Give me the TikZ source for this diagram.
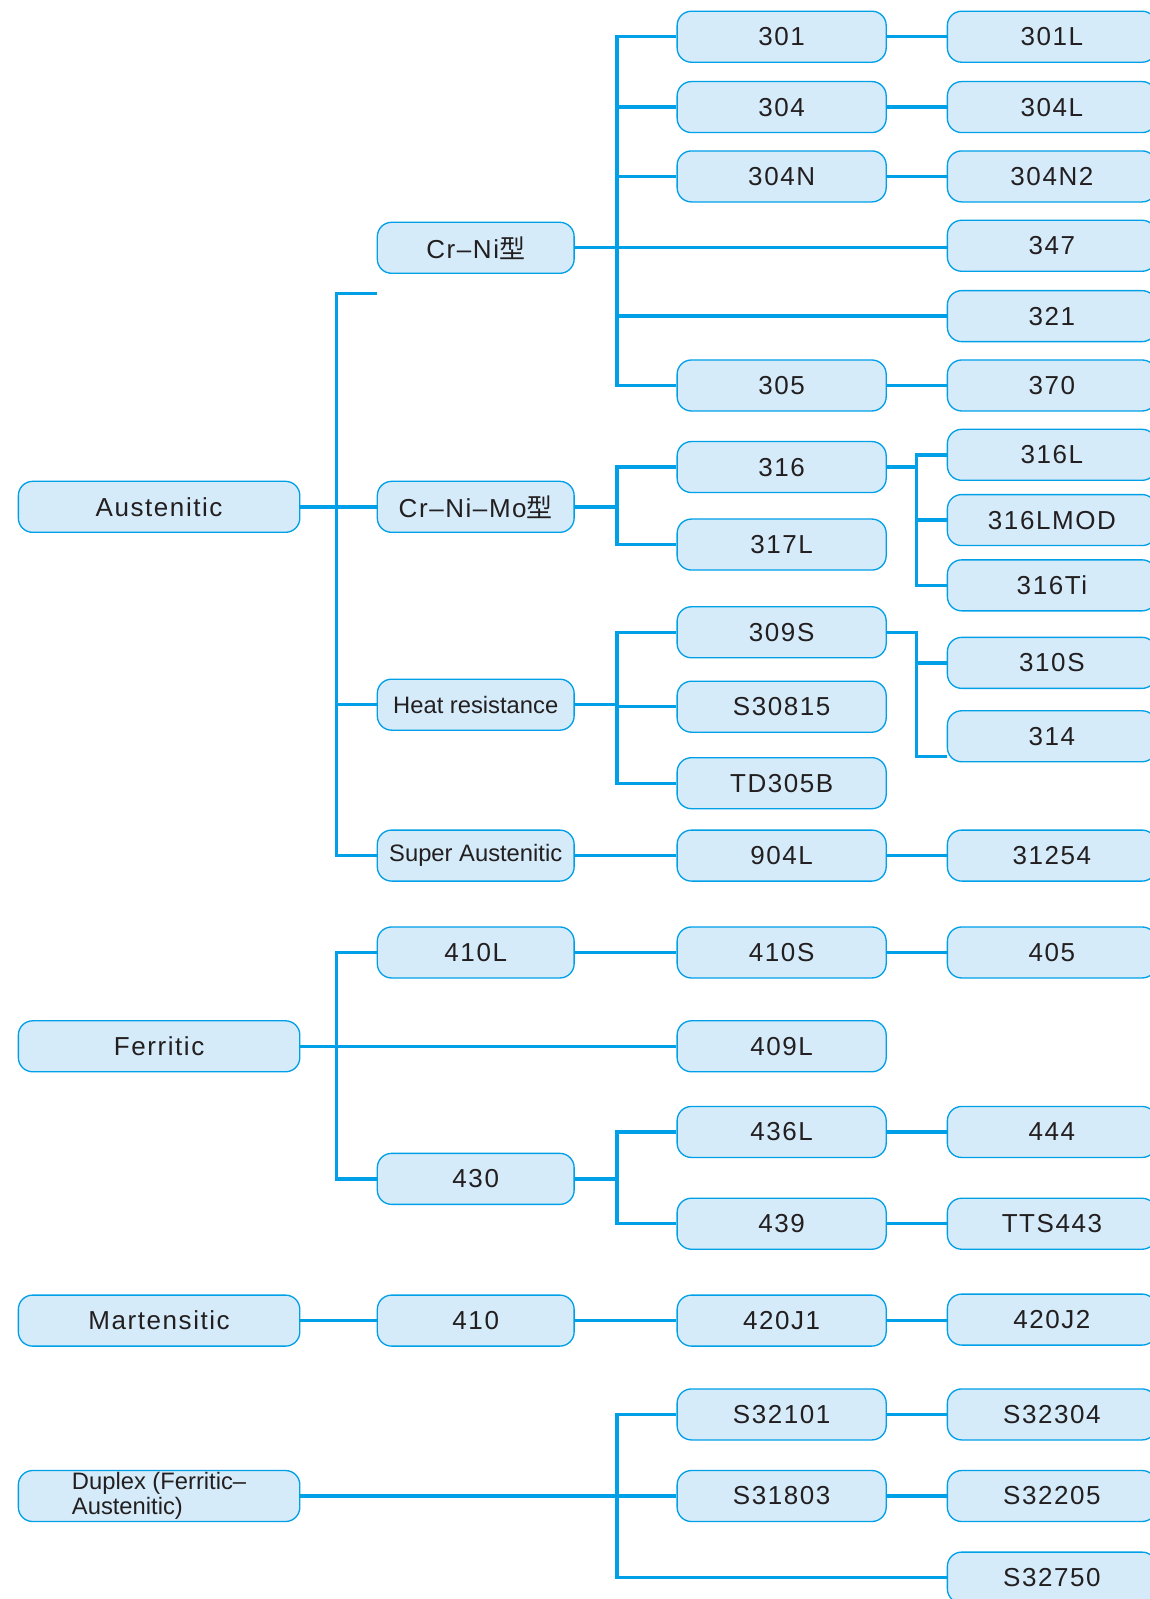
\documentclass[tikz,border=0pt]{standalone}
\usepackage{fontspec}
\setmainfont{Liberation Sans}
\newfontfamily\trk[LetterSpace=6]{Liberation Sans}
\newfontfamily\cjk{Noto Sans CJK SC}
\definecolor{lineblue}{HTML}{00A0E9}
\definecolor{boxfill}{HTML}{D5EBF9}
\definecolor{txt}{HTML}{231F20}
\newcommand\mylab{\trk\fontsize{25.5bp}{30bp}\selectfont}
\newcommand\mysmall{\fontsize{23.3bp}{24bp}\selectfont}
\tikzset{
  box/.style={draw=lineblue, line width=1.3bp, fill=boxfill, rounded corners=14bp,
    minimum height=50bp, inner sep=0pt, text=txt, font=\mylab},
  colA/.style={box, minimum width=276bp},
  colB/.style={box, minimum width=193bp},
  colC/.style={box, minimum width=205bp},
  colD/.style={box, minimum width=205bp},
  small/.style={font=\mysmall},
  link/.style={draw=lineblue, line width=3.3bp},
}
\begin{document}
\begin{tikzpicture}[x=1bp, y=-1bp]
\useasboundingbox (0,0) rectangle (1127,1568);
\fill[white] (0,0) rectangle (1127,1568);

% trunk coordinates
\coordinate (tA) at (330,288);
\coordinate (tB) at (605,0);
\coordinate (tC) at (899,0);

% column A
\node[colA] (aus) at (156,497) {Austenitic};
\node[colA] (fer) at (156,1026) {Ferritic};
\node[colA] (mar) at (156,1295) {Martensitic};
\node[colA, small, align=left] (dup) at (156,1467) {Duplex (Ferritic–\\Austenitic)};

% column B
\node[colB] (crni) at (466.5,243) {Cr–Ni{\cjk 型}};
\node[colB] (crnimo) at (466.5,497) {Cr–Ni–Mo{\cjk 型}};
\node[colB, small] (hr) at (466.5,691) {Heat resistance};
\node[colB, small] (sa) at (466.5,839) {Super Austenitic};
\node[colB] (b410L) at (466.5,934) {410L};
\node[colB] (b430) at (466.5,1156) {430};
\node[colB] (b410) at (466.5,1295) {410};

% column C
\node[colC] (c301) at (766.5,36) {301};
\node[colC] (c304) at (766.5,105) {304};
\node[colC] (c304N) at (766.5,173) {304N};
\node[colC] (c305) at (766.5,378) {305};
\node[colC] (c316) at (766.5,458) {316};
\node[colC] (c317L) at (766.5,534) {317L};
\node[colC] (c309S) at (766.5,620) {309S};
\node[colC] (cS30815) at (766.5,693) {S30815};
\node[colC] (cTD305B) at (766.5,768) {TD305B};
\node[colC] (c904L) at (766.5,839) {904L};
\node[colC] (c410S) at (766.5,934) {410S};
\node[colC] (c409L) at (766.5,1026) {409L};
\node[colC] (c436L) at (766.5,1110) {436L};
\node[colC] (c439) at (766.5,1200) {439};
\node[colC] (c420J1) at (766.5,1295) {420J1};
\node[colC] (cS32101) at (766.5,1387) {S32101};
\node[colC] (cS31803) at (766.5,1467) {S31803};

% column D
\node[colD] (d301L) at (1031.5,36) {301L};
\node[colD] (d304L) at (1031.5,105) {304L};
\node[colD] (d304N2) at (1031.5,173) {304N2};
\node[colD] (d347) at (1031.5,241) {347};
\node[colD] (d321) at (1031.5,310) {321};
\node[colD] (d370) at (1031.5,378) {370};
\node[colD] (d316L) at (1031.5,446) {316L};
\node[colD] (d316LMOD) at (1031.5,510) {316LMOD};
\node[colD] (d316Ti) at (1031.5,574) {316Ti};
\node[colD] (d310S) at (1031.5,650) {310S};
\node[colD] (d314) at (1031.5,722) {314};
\node[colD] (d31254) at (1031.5,839) {31254};
\node[colD] (d405) at (1031.5,934) {405};
\node[colD] (d444) at (1031.5,1110) {444};
\node[colD] (dTTS443) at (1031.5,1200) {TTS443};
\node[colD] (d420J2) at (1031.5,1294) {420J2};
\node[colD] (dS32304) at (1031.5,1387) {S32304};
\node[colD] (dS32205) at (1031.5,1467) {S32205};
\node[colD] (dS32750) at (1031.5,1547) {S32750};

\begin{scope}[every path/.style={link}]
% Austenitic
\draw (crni.west |- tA) -- (tA) -- (tA |- sa.west) -- (sa.west);
\draw (aus.east) -- (crnimo.west);
\draw (tA |- hr.west) -- (hr.west);
% Cr-Ni
\draw (crni.east) -- (crni.east -| d347.west);
\draw (c301.west) -- (c301.west -| tB) -- (c305.west -| tB) -- (c305.west);
\draw (c304.west -| tB) -- (c304.west);
\draw (c304N.west -| tB) -- (c304N.west);
\draw (d321.west -| tB) -- (d321.west);
\draw (c301.east) -- (d301L.west);
\draw (c304.east) -- (d304L.west);
\draw (c304N.east) -- (d304N2.west);
\draw (c305.east) -- (d370.west);
% Cr-Ni-Mo
\draw (crnimo.east) -- (crnimo.east -| tB);
\draw (c316.west) -- (c316.west -| tB) -- (c317L.west -| tB) -- (c317L.west);
\draw (c316.east) -- (c316.east -| tC);
\draw (d316L.west) -- (d316L.west -| tC) -- (d316Ti.west -| tC) -- (d316Ti.west);
\draw (d316LMOD.west -| tC) -- (d316LMOD.west);
% Heat resistance
\draw (hr.east) -- (hr.east -| tB);
\draw (c309S.west) -- (c309S.west -| tB) -- (cTD305B.west -| tB) -- (cTD305B.west);
\draw (cS30815.west -| tB) -- (cS30815.west);
\draw (c309S.east) -- (c309S.east -| tC) -- ([yshift=-20bp]d314.west -| tC) -- ([yshift=-20bp]d314.west);
\draw (d310S.west -| tC) -- (d310S.west);
% Super Austenitic
\draw (sa.east) -- (c904L.west);
\draw (c904L.east) -- (d31254.west);
% Ferritic
\draw (fer.east) -- (c409L.west);
\draw (b410L.west) -- (b410L.west -| tA) -- (b430.west -| tA) -- (b430.west);
\draw (b410L.east) -- (c410S.west);
\draw (c410S.east) -- (d405.west);
\draw (b430.east) -- (b430.east -| tB);
\draw (c436L.west) -- (c436L.west -| tB) -- (c439.west -| tB) -- (c439.west);
\draw (c436L.east) -- (d444.west);
\draw (c439.east) -- (dTTS443.west);
% Martensitic
\draw (mar.east) -- (b410.west);
\draw (b410.east) -- (c420J1.west);
\draw (c420J1.east) -- (c420J1.east -| d420J2.west);
% Duplex
\draw (dup.east) -- (cS31803.west);
\draw (cS32101.west) -- (cS32101.west -| tB) -- (dS32750.west -| tB) -- (dS32750.west);
\draw (cS32101.east) -- (dS32304.west);
\draw (cS31803.east) -- (dS32205.west);
\end{scope}
\end{tikzpicture}
\end{document}
